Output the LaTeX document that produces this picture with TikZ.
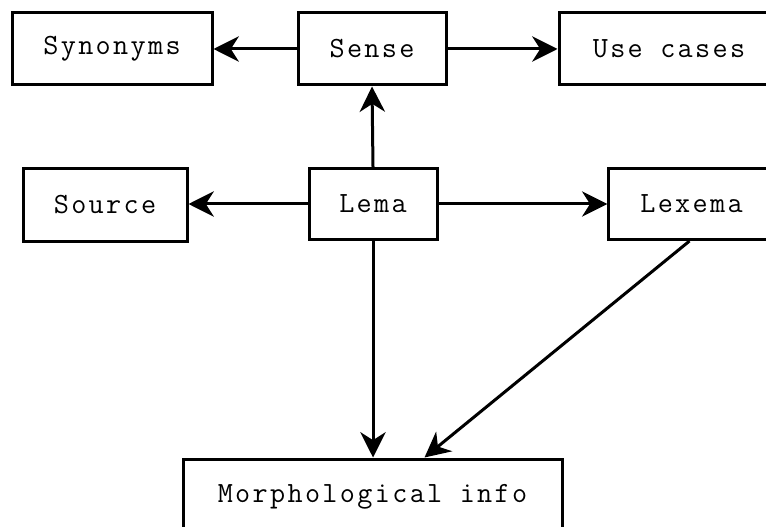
\documentclass[tikz,border=0pt]{standalone}
\usepackage{fontspec}
\newfontfamily\boxfont{Latin Modern Mono}[LetterSpace=8]
\usetikzlibrary{arrows.meta,calc}
\begin{document}
\begin{tikzpicture}[x=0.75pt,y=-0.75pt,
  box/.style={draw,line width=2.25pt,inner sep=0pt,minimum height=54pt,font=\boxfont\fontsize{22}{26}\selectfont},
  conn/.style={line width=2.25pt,-{Stealth[length=19pt,width=19pt,inset=6pt]}}]
\useasboundingbox (0,0) rectangle (766,527);
\clip (0,0) rectangle (766,527);
\node[box,minimum width=150pt] (syn) at (112,49) {Synonyms};
\node[box,minimum width=111pt] (sense) at (372,49) {Sense};
\node[box,minimum width=165pt] (use) at (669,49) {Use cases};
\node[box,minimum width=123pt] (src) at (105,205) {Source};
\node[box,minimum width=96pt,minimum height=53.25pt] (lema) at (373,204) {Lema};
\node[box,minimum width=124pt,minimum height=53.25pt] (lex) at (691.5,204) {Lexema};
\node[box,minimum width=284.25pt,minimum height=57pt] (morph) at (372.5,497) {Morphological info};
\draw[conn] (sense.west) -- (syn.east);
\draw[conn] (sense.east) -- (use.west);
\draw[conn] (lema.north) -- (sense.south);
\draw[conn] (lema.west) -- (src.east |- lema.west);
\draw[conn] (lema.east) -- (lex.west);
\draw[conn] (lema.south) -- (lema.south |- morph.north);
\draw[conn] ($(lex.south)+(-2,0)$) -- ($(morph.north)+(52,0)$);
\end{tikzpicture}
\end{document}
